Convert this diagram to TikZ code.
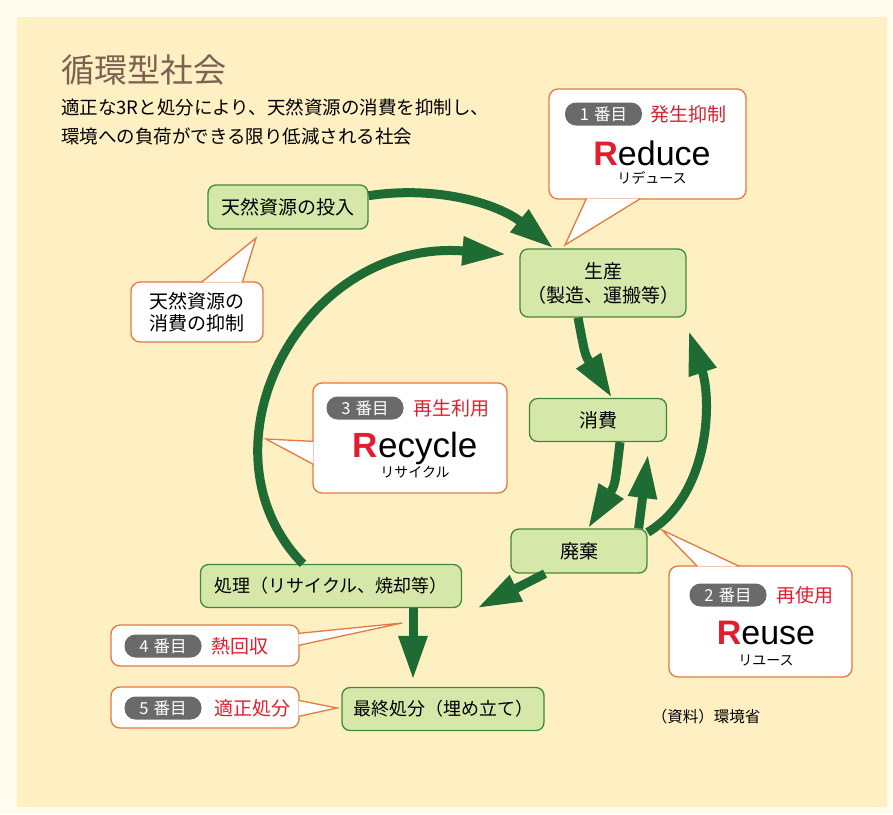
\documentclass[tikz,border=0pt]{standalone}
\usepackage{fontspec}
\setmainfont{Noto Sans CJK JP}
\newfontfamily\wordfont{Liberation Sans}
\usetikzlibrary{arrows.meta,calc}
\definecolor{paper}{HTML}{FFFCEF}
\definecolor{panel}{HTML}{FEF0C2}
\definecolor{leaf}{HTML}{D6E8A9}
\definecolor{leafline}{HTML}{3F8A3A}
\definecolor{flow}{HTML}{1E6B33}
\definecolor{callline}{HTML}{E5793F}
\definecolor{rankred}{HTML}{E01E2D}
\definecolor{rankgray}{HTML}{6A6A6A}
\definecolor{titlebrown}{HTML}{7D6052}
\tikzset{
  stage/.style={draw=leafline, fill=leaf, line width=1.3pt, rounded corners=8pt, align=center, font=\fontsize{19}{24}\selectfont, inner sep=0pt},
  bubble/.style={draw=callline, fill=white, line width=1.3pt, rounded corners=9pt, inner sep=0pt},
  rank/.style={fill=rankgray, rounded corners=11pt, text=white, minimum width=77pt, minimum height=23pt, inner sep=0pt, font=\fontsize{16.5}{16.5}\selectfont},
  rankname/.style={text=rankred, anchor=west, font=\fontsize{19}{19}\selectfont, inner sep=0pt},
  word/.style={anchor=base, font=\wordfont\fontsize{34}{34}\selectfont, inner sep=0pt},
  kana/.style={font=\fontsize{14}{14}\selectfont, inner sep=0pt},
  flowarrow/.style={draw=flow, line width=9pt, -{Triangle[length=44pt,width=27pt]}}
}
\newcommand{\callptr}[3]{%
  \fill[white] (#1) -- (#3) -- (#2) -- cycle;
  \draw[draw=callline, line width=1.3pt] (#1) -- (#3) -- (#2);}
\newcommand{\bigR}{\textcolor{rankred}{\textbf{R}}}

\begin{document}
\begin{tikzpicture}[x=1pt,y=-1pt]
    \useasboundingbox[fill=paper] (0,0) rectangle (893,814);
    \fill[panel] (17,17) rectangle (887,807);

    \node[anchor=west, text=titlebrown, font=\fontsize{33}{33}\selectfont, inner sep=0pt] (title) at (61,70) {循環型社会};
    \node[anchor=west, align=left, font=\fontsize{18.5}{29}\selectfont, inner sep=0pt] (lead) at (61,122)
      {適正な3Rと処分により、天然資源の消費を抑制し、\\環境への負荷ができる限り低減される社会};
    \node[font=\fontsize{15.5}{16}\selectfont, inner sep=0pt] (source) at (706,717) {（資料）環境省};

    \node[stage, minimum width=160pt, minimum height=44pt] (input) at (288,207) {天然資源の投入};
    \node[stage, minimum width=166pt, minimum height=68pt] (prod) at (603,283) {生産\\（製造、運搬等）};
    \node[stage, minimum width=137pt, minimum height=43pt] (cons) at (598,420) {消費};
    \node[stage, minimum width=136pt, minimum height=44pt] (waste) at (579,551) {廃棄};
    \node[stage, minimum width=261pt, minimum height=43pt, font=\fontsize{18}{18}\selectfont] (proc) at (331,586) {処理（リサイクル、焼却等）};
    \node[stage, minimum width=202pt, minimum height=43pt, font=\fontsize{18}{18}\selectfont] (final) at (443,709) {最終処分（埋め立て）};

    \draw[flowarrow] (input.8) .. controls (440,185) and (500,205) .. (prod.145);
    \draw[flowarrow] ([xshift=-28pt]proc.north) .. controls (192,450) and (300,238) .. ($(prod.north west)+(-13,6)$);
    \draw[flowarrow] ([xshift=-25pt]prod.south) .. controls (585,355) .. ([xshift=14pt]cons.north);
    \draw[flowarrow] ([xshift=22pt]cons.south) .. controls (615,485) .. ([xshift=9pt]waste.north);
    \draw[flowarrow] ([xshift=-9pt]waste.north east) -- ($(cons.south)+(50,12)$);
    \draw[flowarrow] ([yshift=-4pt]waste.north east) .. controls (710,495) and (712,400) .. ($(prod.south east)+(2,13)$);
    \draw[flowarrow] ([xshift=-34pt]waste.south) -- ([xshift=15pt]proc.south east);
    \draw[flowarrow] ([xshift=82pt]proc.south) -- ($(final.north)+(-30,-7)$);

    \coordinate (reduceTip) at (565,245);
    \coordinate (limitTip) at (256,238);
    \coordinate (recycleTip) at (266,439);
    \coordinate (reuseTip) at (662,530);
    \coordinate (heatTip) at (402,623);
    \coordinate (dispTip) at (337,708);

    \node[bubble, minimum width=197pt, minimum height=110pt] (reduceC) at (647.5,144) {};
    \callptr{$(reduceC.south west)+(38,-1)$}{$(reduceC.south west)+(92,-1)$}{reduceTip}
    \node[rank] (rank1) at (603.5,114) {1\hspace{5pt}番目};
    \node[rankname] (reduceJ) at (650,114) {発生抑制};
    \node[word] (reduceW) at (652,165) {\bigR educe};
    \node[kana] (reduceK) at (652,178) {リデュース};

    \node[bubble, minimum width=132pt, minimum height=60pt, align=center, font=\fontsize{19}{22}\selectfont] (limitC) at (197,312) {天然資源の\\消費の抑制};
    \callptr{$(limitC.north west)+(71,1)$}{$(limitC.north west)+(112,1)$}{limitTip}

    \node[bubble, minimum width=194pt, minimum height=110pt] (recycleC) at (410,438) {};
    \callptr{$(recycleC.north west)+(1,59)$}{$(recycleC.north west)+(1,82)$}{recycleTip}
    \node[rank] (rank3) at (365,408) {3\hspace{5pt}番目};
    \node[rankname] (recycleJ) at (413,408) {再生利用};
    \node[word, font=\wordfont\fontsize{35}{35}\selectfont] (recycleW) at (415,457) {\bigR ecycle};
    \node[kana] (recycleK) at (415,472) {リサイクル};

    \node[bubble, minimum width=183pt, minimum height=111pt] (reuseC) at (760.5,621.5) {};
    \callptr{$(reuseC.north west)+(29,1)$}{$(reuseC.north west)+(71,1)$}{reuseTip}
    \node[rank] (rank2) at (728,595) {2\hspace{5pt}番目};
    \node[rankname] (reuseJ) at (776,595) {再使用};
    \node[word] (reuseW) at (766,644) {\bigR euse};
    \node[kana] (reuseK) at (766,660) {リユース};

    \node[bubble, minimum width=188pt, minimum height=41pt] (heatC) at (205,645.5) {};
    \callptr{$(heatC.north east)+(-1,9)$}{$(heatC.north east)+(-1,21)$}{heatTip}
    \node[rank] (rank4) at (163,646) {4\hspace{5pt}番目};
    \node[rankname] (heatJ) at (211,646) {熱回収};

    \node[bubble, minimum width=188pt, minimum height=41pt] (dispC) at (205,707.5) {};
    \callptr{$(dispC.north east)+(-1,14)$}{$(dispC.north east)+(-1,30)$}{dispTip}
    \node[rank] (rank5) at (163,708) {5\hspace{5pt}番目};
    \node[rankname] (dispJ) at (214,708) {適正処分};
\end{tikzpicture}
\end{document}
